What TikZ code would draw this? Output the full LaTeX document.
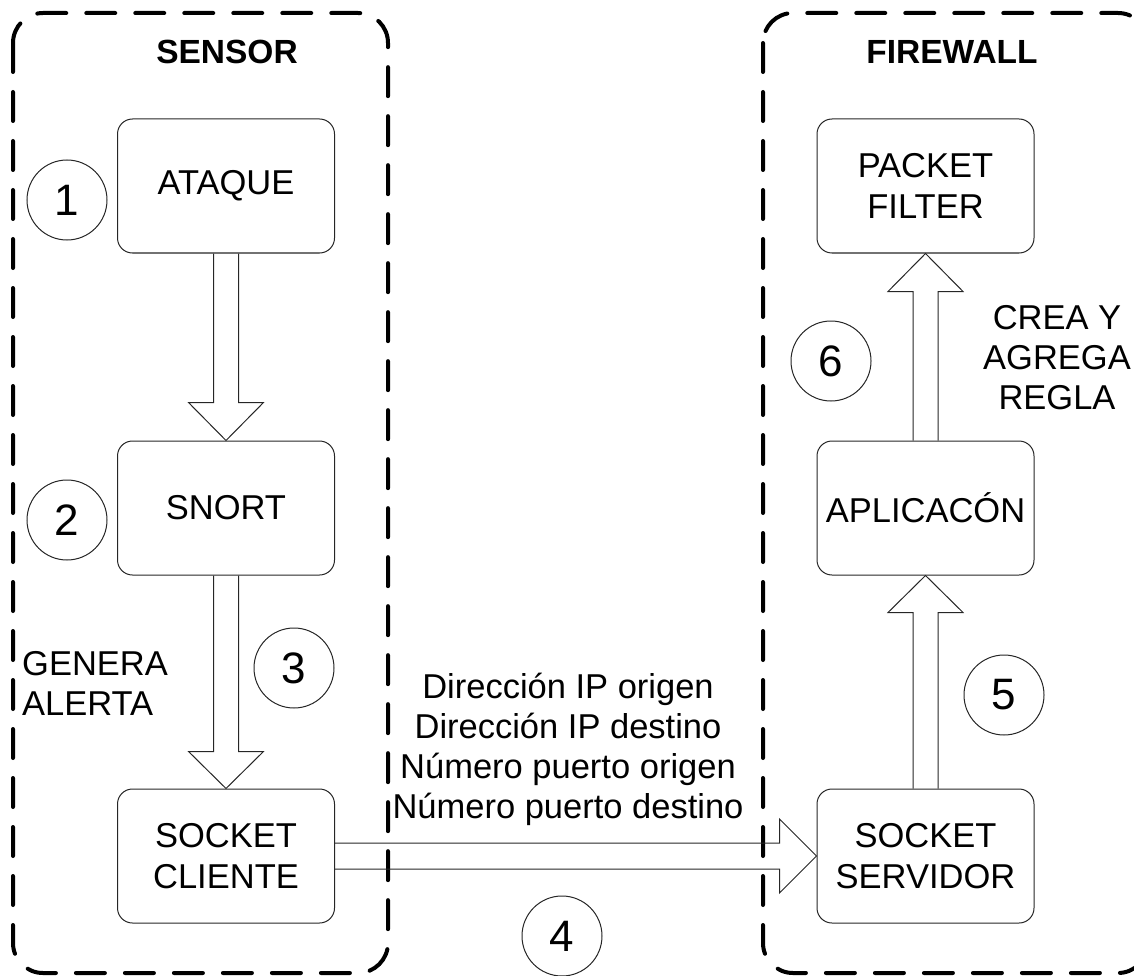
\documentclass[tikz,border=0pt]{standalone}
\usepackage{fontspec}
\setmainfont{Liberation Sans}
\usetikzlibrary{calc}
\tikzset{
  container/.style={draw=black, line width=4pt, dash pattern=on 29pt off 20pt, line cap=round, rounded corners=30pt},
  procbox/.style={draw=black!85, line width=1pt, rounded corners=15pt, minimum width=217pt, minimum height=134pt, align=center, inner sep=0pt, font=\fontsize{34.5}{41}\selectfont},
  numcircle/.style={draw=black!85, line width=1pt, circle, minimum size=80pt, inner sep=0pt, font=\fontsize{44}{44}\selectfont},
  lbl/.style={inner sep=0pt, font=\fontsize{34.5}{40}\selectfont},
  title/.style={inner sep=0pt, font=\fontsize{33.5}{40}\selectfont\bfseries},
  blockarrow/.style={draw=black!85, line width=1pt, line join=miter}
}
\begin{document}
\begin{tikzpicture}[x=1pt,y=-1pt]
\useasboundingbox (0,0) rectangle (1134,976);
\begin{scope}
\clip (0,0) rectangle (1134,976);
\draw[container] (13,13) rectangle (388,973);
\draw[container] (763,13) rectangle (1148,973);
\end{scope}

\node[title] (sensor) at (227,52) {SENSOR};
\node[title] (firewall) at (952,52) {FIREWALL};

\node[procbox] (ataque) at (226,186) {ATAQUE};
\node[procbox] (snort) at (226,508) {SNORT};
\node[procbox] (cliente) at (226,856) {SOCKET\\CLIENTE};
\node[procbox] (packet) at (925.5,186) {PACKET\\FILTER};
\node[procbox] (aplic) at (925.5,508) {APLICACÓN};
\node[procbox] (servidor) at (925.5,856) {SOCKET\\SERVIDOR};

\node[numcircle] (c1) at (67,200) {1};
\node[numcircle] (c2) at (67,520) {2};
\node[numcircle] (c3) at (294,668) {3};
\node[numcircle] (c4) at (562,936) {4};
\node[numcircle] (c5) at (1004,695) {5};
\node[numcircle] (c6) at (831,361) {6};

\node[lbl, anchor=west, align=left] (genera) at (22,683) {GENERA\\ALERTA};
\node[lbl, align=center] (ipinfo) at (568,749) {Dirección IP origen\\Dirección IP destino\\Número puerto origen\\Número puerto destino};
\node[lbl, align=center] (crea) at (1057,358) {CREA Y\\AGREGA\\REGLA};

% ATAQUE -> SNORT
\draw[blockarrow] ($(ataque.south)+(-12.5,0)$) -- ($(snort.north)+(-12.5,-38)$) -- ($(snort.north)+(-37.5,-38)$) -- (snort.north) -- ($(snort.north)+(37.5,-38)$) -- ($(snort.north)+(12.5,-38)$) -- ($(ataque.south)+(12.5,0)$);
% SNORT -> CLIENTE
\draw[blockarrow] ($(snort.south)+(-12.5,0)$) -- ($(cliente.north)+(-12.5,-37)$) -- ($(cliente.north)+(-37.5,-37)$) -- (cliente.north) -- ($(cliente.north)+(37.5,-37)$) -- ($(cliente.north)+(12.5,-37)$) -- ($(snort.south)+(12.5,0)$);
% CLIENTE -> SERVIDOR
\draw[blockarrow] ($(cliente.east)+(0,-13)$) -- ($(servidor.west)+(-37,-13)$) -- ($(servidor.west)+(-37,-37)$) -- (servidor.west) -- ($(servidor.west)+(-37,37)$) -- ($(servidor.west)+(-37,13)$) -- ($(cliente.east)+(0,13)$);
% SERVIDOR -> APLICACION
\draw[blockarrow] ($(servidor.north)+(-12.5,0)$) -- ($(aplic.south)+(-12.5,37)$) -- ($(aplic.south)+(-37.5,37)$) -- (aplic.south) -- ($(aplic.south)+(37.5,37)$) -- ($(aplic.south)+(12.5,37)$) -- ($(servidor.north)+(12.5,0)$);
% APLICACION -> PACKET
\draw[blockarrow] ($(aplic.north)+(-12.5,0)$) -- ($(packet.south)+(-12.5,38)$) -- ($(packet.south)+(-37.5,38)$) -- (packet.south) -- ($(packet.south)+(37.5,38)$) -- ($(packet.south)+(12.5,38)$) -- ($(aplic.north)+(12.5,0)$);
\end{tikzpicture}
\end{document}
